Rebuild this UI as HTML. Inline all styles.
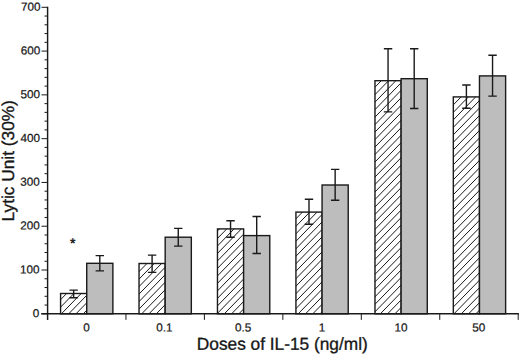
<!DOCTYPE html><html><head><meta charset="utf-8"><style>html,body{margin:0;padding:0;background:#fff;width:520px;height:356px;overflow:hidden}svg{display:block}text{font-family:"Liberation Sans",sans-serif;text-rendering:geometricPrecision;fill:#161616;stroke:#161616;stroke-width:0.22px}</style></head><body>
<svg width="520" height="356" viewBox="0 0 520 356">
<defs><clipPath id="c0"><rect x="60.58" y="293.50" width="26.15" height="20.30"/></clipPath><clipPath id="c1"><rect x="139.03" y="263.50" width="26.15" height="50.30"/></clipPath><clipPath id="c2"><rect x="217.47" y="228.90" width="26.15" height="84.90"/></clipPath><clipPath id="c3"><rect x="295.93" y="212.10" width="26.15" height="101.70"/></clipPath><clipPath id="c4"><rect x="374.98" y="80.70" width="26.15" height="233.10"/></clipPath><clipPath id="c5"><rect x="453.32" y="96.90" width="26.15" height="216.90"/></clipPath></defs>
<rect x="60.58" y="293.50" width="26.15" height="20.30" fill="#fff"/>
<path clip-path="url(#c0)" d="M22.95 315.80L46.64 291.50M30.25 315.80L53.94 291.50M37.55 315.80L61.24 291.50M44.85 315.80L68.54 291.50M52.15 315.80L75.84 291.50M59.45 315.80L83.14 291.50M66.75 315.80L90.44 291.50M74.05 315.80L97.74 291.50M81.35 315.80L105.04 291.50M88.65 315.80L112.34 291.50M95.95 315.80L119.64 291.50" stroke="#1a1a1a" stroke-width="1.00" fill="none"/>
<rect x="60.58" y="293.50" width="26.15" height="20.30" fill="none" stroke="#1a1a1a" stroke-width="1.40"/>
<path d="M73.65 290.10V297.70M69.45 290.10H77.85M69.45 297.70H77.85" stroke="#1a1a1a" stroke-width="1.40" fill="none"/>
<rect x="86.73" y="263.30" width="26.15" height="50.50" fill="#bdbdbd" stroke="#1a1a1a" stroke-width="1.40"/>
<path d="M99.80 255.60V270.90M95.60 255.60H104.00M95.60 270.90H104.00" stroke="#1a1a1a" stroke-width="1.40" fill="none"/>
<rect x="139.03" y="263.50" width="26.15" height="50.30" fill="#fff"/>
<path clip-path="url(#c1)" d="M74.05 315.80L126.99 261.50M81.35 315.80L134.29 261.50M88.65 315.80L141.59 261.50M95.95 315.80L148.89 261.50M103.25 315.80L156.19 261.50M110.55 315.80L163.49 261.50M117.85 315.80L170.79 261.50M125.15 315.80L178.09 261.50M132.45 315.80L185.39 261.50M139.75 315.80L192.69 261.50M147.05 315.80L199.99 261.50M154.35 315.80L207.29 261.50M161.65 315.80L214.59 261.50M168.95 315.80L221.89 261.50M176.25 315.80L229.19 261.50" stroke="#1a1a1a" stroke-width="1.00" fill="none"/>
<rect x="139.03" y="263.50" width="26.15" height="50.30" fill="none" stroke="#1a1a1a" stroke-width="1.40"/>
<path d="M152.10 255.10V272.40M147.90 255.10H156.30M147.90 272.40H156.30" stroke="#1a1a1a" stroke-width="1.40" fill="none"/>
<rect x="165.18" y="237.20" width="26.15" height="76.60" fill="#bdbdbd" stroke="#1a1a1a" stroke-width="1.40"/>
<path d="M178.25 228.40V246.10M174.05 228.40H182.45M174.05 246.10H182.45" stroke="#1a1a1a" stroke-width="1.40" fill="none"/>
<rect x="217.47" y="228.90" width="26.15" height="84.90" fill="#fff"/>
<path clip-path="url(#c2)" d="M120.15 315.80L206.83 226.90M127.45 315.80L214.13 226.90M134.75 315.80L221.43 226.90M142.05 315.80L228.73 226.90M149.35 315.80L236.03 226.90M156.65 315.80L243.33 226.90M163.95 315.80L250.63 226.90M171.25 315.80L257.93 226.90M178.55 315.80L265.23 226.90M185.85 315.80L272.53 226.90M193.15 315.80L279.83 226.90M200.45 315.80L287.13 226.90M207.75 315.80L294.43 226.90M215.05 315.80L301.73 226.90M222.35 315.80L309.03 226.90M229.65 315.80L316.33 226.90M236.95 315.80L323.63 226.90M244.25 315.80L330.93 226.90M251.55 315.80L338.23 226.90" stroke="#1a1a1a" stroke-width="1.00" fill="none"/>
<rect x="217.47" y="228.90" width="26.15" height="84.90" fill="none" stroke="#1a1a1a" stroke-width="1.40"/>
<path d="M230.55 220.80V237.20M226.35 220.80H234.75M226.35 237.20H234.75" stroke="#1a1a1a" stroke-width="1.40" fill="none"/>
<rect x="243.62" y="235.60" width="26.15" height="78.20" fill="#bdbdbd" stroke="#1a1a1a" stroke-width="1.40"/>
<path d="M256.70 216.50V253.50M252.50 216.50H260.90M252.50 253.50H260.90" stroke="#1a1a1a" stroke-width="1.40" fill="none"/>
<rect x="295.93" y="212.10" width="26.15" height="101.70" fill="#fff"/>
<path clip-path="url(#c3)" d="M179.45 315.80L282.51 210.10M186.75 315.80L289.81 210.10M194.05 315.80L297.11 210.10M201.35 315.80L304.41 210.10M208.65 315.80L311.71 210.10M215.95 315.80L319.01 210.10M223.25 315.80L326.31 210.10M230.55 315.80L333.61 210.10M237.85 315.80L340.91 210.10M245.15 315.80L348.21 210.10M252.45 315.80L355.51 210.10M259.75 315.80L362.81 210.10M267.05 315.80L370.11 210.10M274.35 315.80L377.41 210.10M281.65 315.80L384.71 210.10M288.95 315.80L392.01 210.10M296.25 315.80L399.31 210.10M303.55 315.80L406.61 210.10M310.85 315.80L413.91 210.10M318.15 315.80L421.21 210.10M325.45 315.80L428.51 210.10M332.75 315.80L435.81 210.10" stroke="#1a1a1a" stroke-width="1.00" fill="none"/>
<rect x="295.93" y="212.10" width="26.15" height="101.70" fill="none" stroke="#1a1a1a" stroke-width="1.40"/>
<path d="M309.00 199.30V224.20M304.80 199.30H313.20M304.80 224.20H313.20" stroke="#1a1a1a" stroke-width="1.40" fill="none"/>
<rect x="322.07" y="185.00" width="26.15" height="128.80" fill="#bdbdbd" stroke="#1a1a1a" stroke-width="1.40"/>
<path d="M335.15 169.40V200.30M330.95 169.40H339.35M330.95 200.30H339.35" stroke="#1a1a1a" stroke-width="1.40" fill="none"/>
<rect x="374.98" y="80.70" width="26.15" height="233.10" fill="#fff"/>
<path clip-path="url(#c4)" d="M130.15 315.80L361.32 78.70M137.45 315.80L368.62 78.70M144.75 315.80L375.92 78.70M152.05 315.80L383.22 78.70M159.35 315.80L390.52 78.70M166.65 315.80L397.82 78.70M173.95 315.80L405.12 78.70M181.25 315.80L412.42 78.70M188.55 315.80L419.72 78.70M195.85 315.80L427.02 78.70M203.15 315.80L434.32 78.70M210.45 315.80L441.62 78.70M217.75 315.80L448.92 78.70M225.05 315.80L456.22 78.70M232.35 315.80L463.52 78.70M239.65 315.80L470.82 78.70M246.95 315.80L478.12 78.70M254.25 315.80L485.42 78.70M261.55 315.80L492.72 78.70M268.85 315.80L500.02 78.70M276.15 315.80L507.32 78.70M283.45 315.80L514.62 78.70M290.75 315.80L521.92 78.70M298.05 315.80L529.22 78.70M305.35 315.80L536.52 78.70M312.65 315.80L543.82 78.70M319.95 315.80L551.12 78.70M327.25 315.80L558.42 78.70M334.55 315.80L565.72 78.70M341.85 315.80L573.02 78.70M349.15 315.80L580.32 78.70M356.45 315.80L587.62 78.70M363.75 315.80L594.92 78.70M371.05 315.80L602.22 78.70M378.35 315.80L609.52 78.70M385.65 315.80L616.82 78.70M392.95 315.80L624.12 78.70M400.25 315.80L631.42 78.70M407.55 315.80L638.72 78.70" stroke="#1a1a1a" stroke-width="1.00" fill="none"/>
<rect x="374.98" y="80.70" width="26.15" height="233.10" fill="none" stroke="#1a1a1a" stroke-width="1.40"/>
<path d="M388.05 48.80V111.90M383.85 48.80H392.25M383.85 111.90H392.25" stroke="#1a1a1a" stroke-width="1.40" fill="none"/>
<rect x="401.12" y="78.70" width="26.15" height="235.10" fill="#bdbdbd" stroke="#1a1a1a" stroke-width="1.40"/>
<path d="M414.20 48.80V108.50M410.00 48.80H418.40M410.00 108.50H418.40" stroke="#1a1a1a" stroke-width="1.40" fill="none"/>
<rect x="453.32" y="96.90" width="26.15" height="216.90" fill="#fff"/>
<path clip-path="url(#c5)" d="M225.75 315.80L441.13 94.90M233.05 315.80L448.43 94.90M240.35 315.80L455.73 94.90M247.65 315.80L463.03 94.90M254.95 315.80L470.33 94.90M262.25 315.80L477.63 94.90M269.55 315.80L484.93 94.90M276.85 315.80L492.23 94.90M284.15 315.80L499.53 94.90M291.45 315.80L506.83 94.90M298.75 315.80L514.13 94.90M306.05 315.80L521.43 94.90M313.35 315.80L528.73 94.90M320.65 315.80L536.03 94.90M327.95 315.80L543.33 94.90M335.25 315.80L550.63 94.90M342.55 315.80L557.93 94.90M349.85 315.80L565.23 94.90M357.15 315.80L572.53 94.90M364.45 315.80L579.83 94.90M371.75 315.80L587.13 94.90M379.05 315.80L594.43 94.90M386.35 315.80L601.73 94.90M393.65 315.80L609.03 94.90M400.95 315.80L616.33 94.90M408.25 315.80L623.63 94.90M415.55 315.80L630.93 94.90M422.85 315.80L638.23 94.90M430.15 315.80L645.53 94.90M437.45 315.80L652.83 94.90M444.75 315.80L660.13 94.90M452.05 315.80L667.43 94.90M459.35 315.80L674.73 94.90M466.65 315.80L682.03 94.90M473.95 315.80L689.33 94.90M481.25 315.80L696.63 94.90M488.55 315.80L703.93 94.90" stroke="#1a1a1a" stroke-width="1.00" fill="none"/>
<rect x="453.32" y="96.90" width="26.15" height="216.90" fill="none" stroke="#1a1a1a" stroke-width="1.40"/>
<path d="M466.40 85.00V108.20M462.20 85.00H470.60M462.20 108.20H470.60" stroke="#1a1a1a" stroke-width="1.40" fill="none"/>
<rect x="479.47" y="75.90" width="26.15" height="237.90" fill="#bdbdbd" stroke="#1a1a1a" stroke-width="1.40"/>
<path d="M492.55 55.20V96.10M488.35 55.20H496.75M488.35 96.10H496.75" stroke="#1a1a1a" stroke-width="1.40" fill="none"/>
<path d="M47.60 6.85V319.9M41.3 313.80H518.9" stroke="#1a1a1a" stroke-width="1.45" fill="none"/>
<path d="M41.5 313.80H47.60M41.5 270.01H47.60M41.5 226.23H47.60M41.5 182.44H47.60M41.5 138.66H47.60M41.5 94.87H47.60M41.5 51.08H47.60M41.5 7.30H47.60M44.5 305.04H47.60M44.5 296.29H47.60M44.5 287.53H47.60M44.5 278.77H47.60M44.5 261.26H47.60M44.5 252.50H47.60M44.5 243.74H47.60M44.5 234.99H47.60M44.5 217.47H47.60M44.5 208.71H47.60M44.5 199.96H47.60M44.5 191.20H47.60M44.5 173.68H47.60M44.5 164.93H47.60M44.5 156.17H47.60M44.5 147.41H47.60M44.5 129.90H47.60M44.5 121.14H47.60M44.5 112.38H47.60M44.5 103.63H47.60M44.5 86.11H47.60M44.5 77.36H47.60M44.5 68.60H47.60M44.5 59.84H47.60M44.5 42.33H47.60M44.5 33.57H47.60M44.5 24.81H47.60M44.5 16.06H47.60M125.95 313.80V319.9M204.40 313.80V319.9M282.85 313.80V319.9M361.30 313.80V319.9M439.75 313.80V319.9M518.20 313.80V319.9" stroke="#1a1a1a" stroke-width="1.00" fill="none"/>
<text transform="translate(39.34,317.20) rotate(0.05)" font-size="11.7" text-anchor="end">0</text>
<text transform="translate(39.50,273.41) rotate(0.05)" font-size="11.7" text-anchor="end">100</text>
<text transform="translate(39.65,229.63) rotate(0.05)" font-size="11.7" text-anchor="end">200</text>
<text transform="translate(39.80,185.84) rotate(0.05)" font-size="11.7" text-anchor="end">300</text>
<text transform="translate(39.96,142.06) rotate(0.05)" font-size="11.7" text-anchor="end">400</text>
<text transform="translate(40.11,98.27) rotate(0.05)" font-size="11.7" text-anchor="end">500</text>
<text transform="translate(40.26,54.48) rotate(0.05)" font-size="11.7" text-anchor="end">600</text>
<text transform="translate(40.42,10.70) rotate(0.05)" font-size="11.7" text-anchor="end">700</text>
<text transform="translate(86.52,331.6) rotate(0.05)" font-size="11.7" text-anchor="middle">0</text>
<text transform="translate(164.28,331.6) rotate(0.05)" font-size="11.7" text-anchor="middle">0.1</text>
<text transform="translate(243.22,331.6) rotate(0.05)" font-size="11.7" text-anchor="middle">0.5</text>
<text transform="translate(322.08,331.6) rotate(0.05)" font-size="11.7" text-anchor="middle">1</text>
<text transform="translate(400.88,331.6) rotate(0.05)" font-size="11.7" text-anchor="middle">10</text>
<text transform="translate(478.78,331.6) rotate(0.05)" font-size="11.7" text-anchor="middle">50</text>
<text transform="translate(282.3,349.7) rotate(0.05)" font-size="17.3" text-anchor="middle" style="stroke-width:0.32px">Doses of IL-15 (ng/ml)</text>
<text transform="translate(14.05,160.8) rotate(-89.95)" font-size="17.3" text-anchor="middle" style="stroke-width:0.32px">Lytic Unit (30%)</text>
<text transform="translate(72.65,248.1) rotate(0.05)" font-size="14" text-anchor="middle" style="stroke-width:0.45px">*</text>
</svg></body></html>
